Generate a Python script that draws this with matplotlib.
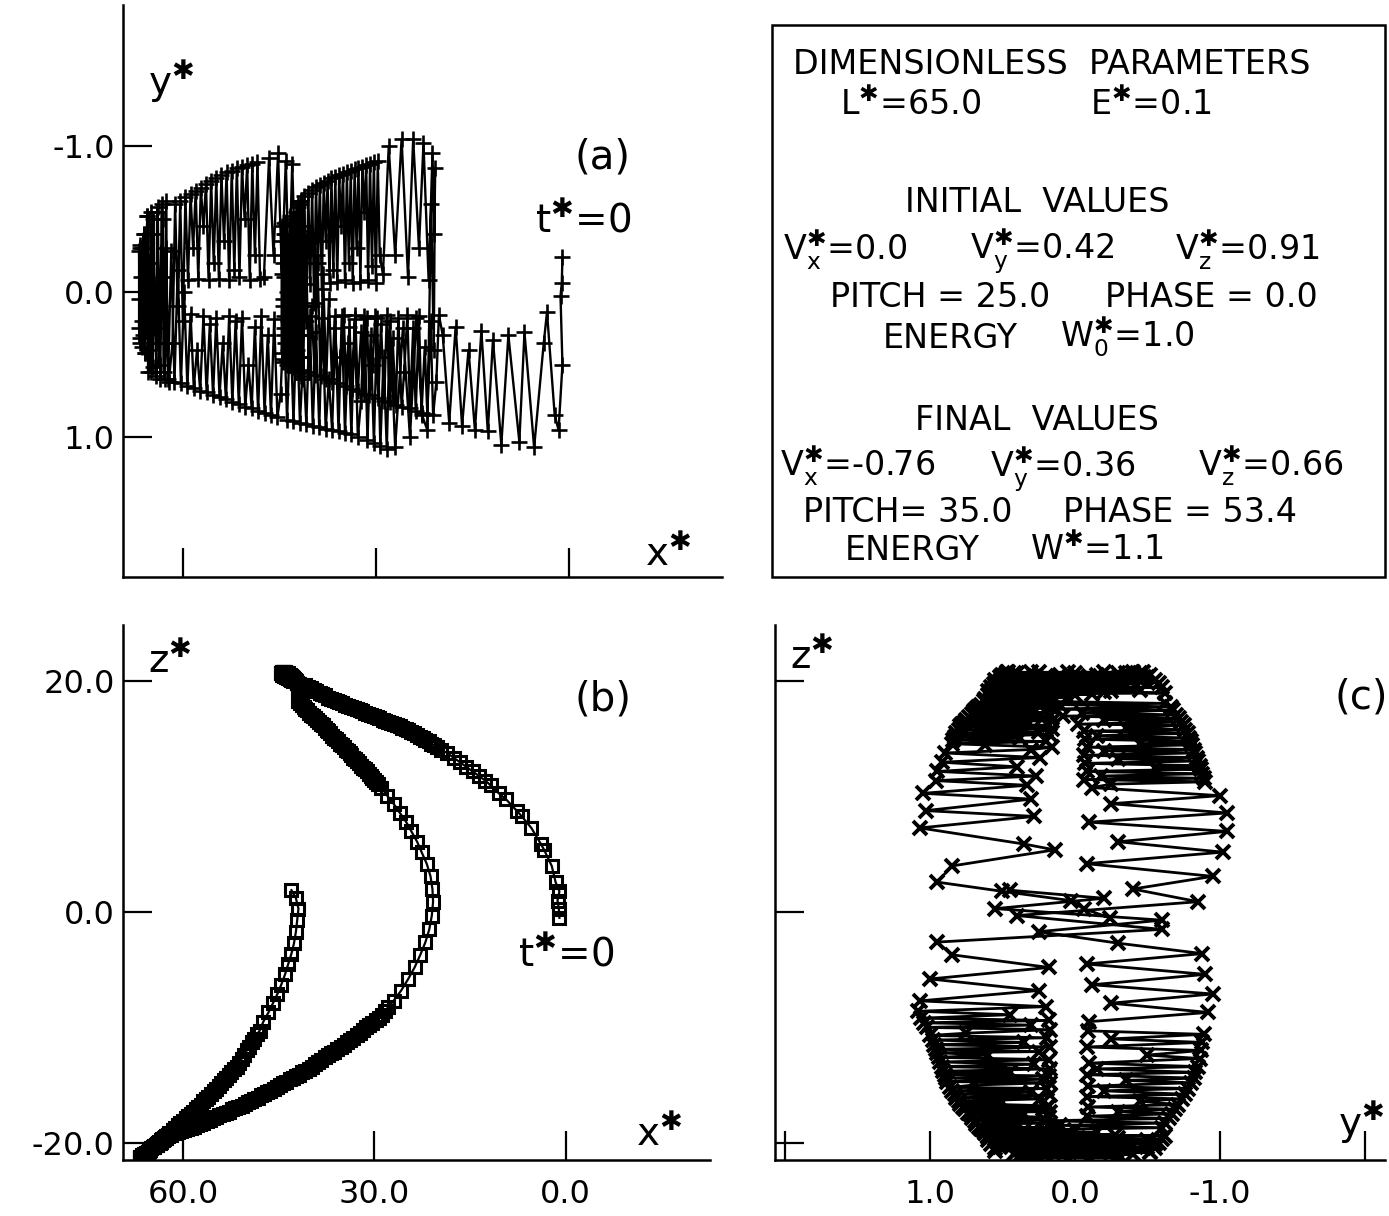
import numpy as np
import matplotlib
matplotlib.use("Agg")
import matplotlib.pyplot as plt
from matplotlib.patches import Rectangle

plt.rcParams['font.family'] = ['DejaVu Sans']
plt.rcParams['axes.unicode_minus'] = False
plt.rcParams['mathtext.default'] = 'regular'

W, H = 1389, 1216
STAR = '\u2731'

# trajectory read off the three projections, piece by piece
# A1/A2: first rise to the upper mirror point (sparse, then dense)
A1_x = [1.0, 1.1, 1.3, 1.0, 1.6, 2.2, 3.4, 3.9, 5.4, 6.9, 7.7, 9.4, 10.5, 11.8, 12.6,
        13.6, 14.6, 15.6, 16.6, 17.6, 18.6, 19.6]
A1_z = [-0.5, 0.3, 1.0, 1.8, 2.6, 4.0, 5.4, 5.9, 7.3, 8.3, 8.8, 9.8, 10.3, 11.0, 11.4,
        11.8, 12.2, 12.6, 13.0, 13.4, 13.8, 14.1]
A1_y = [-0.24, -0.06, 0.03, 0.50, 0.95, 0.85, 0.14, 0.35, 1.07, 0.28, 1.03, 0.30, 1.05,
        0.33, 0.96, 0.27, 0.95, 0.40, 0.92, 0.24, 0.90, 0.30]

A2_x = [20.2, 20.6, 21.1, 21.5, 22.0, 22.4, 22.9, 23.3, 23.8, 24.2, 24.7, 25.1, 25.6,
        26.0, 26.5, 26.9, 27.4, 27.8, 28.3, 28.7, 29.2, 29.6, 30.1, 30.5, 31.0, 31.4,
        31.9, 32.3, 32.8, 33.2, 33.7, 34.1, 34.6, 35.0, 35.5, 35.9, 36.4, 36.8, 37.3,
        37.7, 38.2, 38.6, 39.1, 39.5, 40.0, 40.4, 40.9, 41.3, 41.8, 42.2, 42.7, 43.1]
A2_z = [14.3, 14.5, 14.6, 14.8, 14.9, 15.1, 15.2, 15.4, 15.5, 15.6, 15.8, 15.9, 16.0,
        16.1, 16.2, 16.3, 16.4, 16.5, 16.6, 16.7, 16.8, 16.9, 17.0, 17.1, 17.2, 17.3,
        17.4, 17.5, 17.6, 17.7, 17.8, 17.9, 18.0, 18.1, 18.2, 18.3, 18.4, 18.5, 18.6,
        18.8, 18.9, 19.0, 19.2, 19.3, 19.4, 19.5, 19.7, 19.7, 19.8, 19.9, 20.0, 20.1]
A2_y = [0.16, 0.62, 0.85, 0.20, 0.84, 0.38, 0.83, 0.17, 0.82, 0.25, 0.80, 0.16, 0.55,
        0.79, 0.18, 0.78, 0.32, 0.76, 0.16, 0.75, 0.22, 0.73, 0.17, 0.50, 0.71, 0.18,
        0.70, 0.28, 0.68, 0.16, 0.67, 0.24, 0.65, 0.16, 0.45, 0.63, 0.17, 0.62, 0.05,
        0.60, -0.12, 0.58, -0.25, 0.57, 0.10, 0.55, -0.35, 0.54, -0.42, 0.30, 0.52, -0.45]

# M1: upper mirror point
M1_x = [43.3, 43.5, 43.6, 43.8, 43.9, 44.1, 44.2, 44.3, 44.4, 44.5, 44.6, 44.6, 44.6,
        44.5, 44.5, 44.4, 44.3, 44.3, 44.2, 44.1, 44.0, 43.9, 43.8, 43.7, 43.6, 43.5,
        43.4, 43.3, 43.2, 43.1, 43.0, 42.9, 42.8, 42.7, 42.6, 42.5, 42.4, 42.3, 42.2,
        42.1, 42.0, 41.9, 41.8, 41.7, 41.6, 41.5, 41.4, 41.4, 41.5, 41.6, 41.8, 42.0]
M1_z = [20.2, 20.3, 20.3, 20.4, 20.4, 20.5, 20.5, 20.6, 20.6, 20.6, 20.7, 20.7, 20.7,
        20.8, 20.8, 20.8, 20.8, 20.8, 20.8, 20.8, 20.8, 20.7, 20.7, 20.7, 20.7, 20.6,
        20.6, 20.6, 20.5, 20.5, 20.4, 20.4, 20.3, 20.3, 20.2, 20.1, 20.1, 20.0, 19.9,
        19.9, 19.8, 19.7, 19.6, 19.5, 19.5, 19.4, 19.3, 19.2, 19.1, 19.0, 18.9, 18.8]
M1_y = [0.45, -0.30, 0.20, 0.50, -0.48, 0.35, -0.10, -0.40, 0.48, 0.10, -0.45, 0.42,
        -0.35, 0.05, -0.20, 0.46, -0.47, 0.30, 0.25, -0.40, 0.47, -0.46, 0.00, 0.40,
        -0.30, -0.15, 0.50, -0.52, 0.20, 0.35, -0.50, 0.52, -0.40, 0.10, -0.25, 0.55,
        -0.55, 0.40, 0.05, -0.58, 0.56, -0.35, -0.10, 0.58, -0.60, 0.30, -0.45, 0.60,
        -0.20, -0.62, 0.45, 0.00]

# B1a/B1b: fall from the upper mirror point to z*=0
B1a_x = [42.0, 41.7, 41.4, 41.1, 40.8, 40.5, 40.2, 39.9, 39.6, 39.3, 39.0, 38.7, 38.4,
         38.1, 37.8, 37.5, 37.2, 36.9, 36.6, 36.3, 36.0, 35.7, 35.4, 35.1, 34.8, 34.5,
         34.2, 33.9, 33.6, 33.3, 33.0, 32.7, 32.4, 32.1, 31.8, 31.5, 31.2, 30.9, 30.6,
         30.3, 30.0, 29.7, 29.4]
B1a_z = [18.3, 18.1, 18.0, 17.8, 17.6, 17.5, 17.3, 17.1, 17.0, 16.8, 16.7, 16.5, 16.3,
         16.2, 16.0, 15.8, 15.7, 15.5, 15.3, 15.1, 15.0, 14.8, 14.6, 14.5, 14.3, 14.1,
         14.0, 13.8, 13.6, 13.4, 13.3, 13.1, 12.9, 12.7, 12.5, 12.4, 12.2, 12.0, 11.8,
         11.6, 11.5, 11.3, 11.1]
B1a_y = [0.30, -0.62, 0.10, -0.66, 0.20, -0.68, -0.05, -0.70, 0.08, -0.72, -0.20, -0.73,
         -0.02, -0.75, -0.35, -0.76, -0.06, -0.78, -0.15, -0.79, -0.07, -0.80, -0.45,
         -0.81, -0.08, -0.82, -0.20, -0.83, -0.06, -0.84, -0.30, -0.85, -0.07, -0.86,
         -0.55, -0.87, -0.08, -0.88, -0.18, -0.89, -0.06, -0.90, -0.25]

B1b_x = [28.9, 28.0, 27.0, 26.0, 25.0, 24.2, 23.3, 22.6, 21.8, 21.2, 20.9, 20.8, 21.0,
         21.4, 22.0]
B1b_z = [10.8, 10.1, 9.4, 8.6, 7.8, 7.0, 6.1, 5.2, 4.2, 3.1, 2.0, 0.9, -0.3, -1.5, -2.6]
B1b_y = [-0.12, -1.00, -0.25, -1.05, -0.10, -1.05, -0.30, -1.02, -0.08, -0.95, -0.40,
         -0.85, 0.40, -0.60, 0.95]

# B2a/B2b: fall on to the lower mirror point
B2a_x = [22.8, 23.7, 24.7, 25.8, 27.0]
B2a_z = [-3.7, -4.8, -5.8, -6.8, -7.7]
B2a_y = [0.85, 0.18, 1.00, 0.25, 1.07]

B2b_x = [27.8, 28.3, 28.8, 29.3, 29.8, 30.3, 30.8, 31.3, 31.8, 32.3, 32.8, 33.3, 33.8,
         34.3, 34.8, 35.3, 35.8, 36.3, 36.8, 37.3, 37.8, 38.3, 38.8, 39.3, 39.8, 40.3,
         40.8, 41.3, 41.8, 42.3, 42.8, 43.3, 43.8, 44.3, 44.8, 45.3, 45.8, 46.3, 46.8,
         47.3, 47.8, 48.3, 48.8, 49.3, 49.8, 50.3, 50.8, 51.3, 51.8, 52.3, 52.8, 53.3,
         53.8, 54.3, 54.8, 55.3, 55.8, 56.3, 56.8, 57.3, 57.8, 58.3, 58.8, 59.3, 59.8,
         60.3, 60.8, 61.3, 61.8, 62.3]
B2b_z = [-8.2, -8.6, -8.9, -9.2, -9.4, -9.6, -9.8, -10.0, -10.2, -10.5, -10.7, -10.9,
         -11.1, -11.3, -11.5, -11.7, -11.9, -12.1, -12.2, -12.4, -12.6, -12.8, -13.0,
         -13.2, -13.4, -13.6, -13.8, -13.9, -14.1, -14.2, -14.4, -14.5, -14.7, -14.8,
         -15.0, -15.2, -15.3, -15.5, -15.6, -15.8, -15.9, -16.1, -16.2, -16.4, -16.5,
         -16.6, -16.8, -16.9, -17.0, -17.1, -17.3, -17.4, -17.5, -17.6, -17.8, -17.9,
         -18.0, -18.1, -18.3, -18.4, -18.5, -18.6, -18.7, -18.8, -18.9, -19.0, -19.1,
         -19.2, -19.3, -19.4]
B2b_y = [0.20, 1.08, 0.45, 1.06, 0.18, 1.04, 0.30, 1.02, 0.17, 0.75, 1.00, 0.19, 0.98,
         0.35, 0.97, 0.17, 0.96, 0.25, 0.95, 0.60, 0.94, 0.18, 0.93, 0.28, 0.92, 0.17,
         0.91, 0.45, 0.90, 0.18, 0.89, 0.22, 0.88, 0.17, 0.70, 0.86, 0.19, 0.85, 0.30,
         0.83, 0.17, 0.82, 0.24, 0.80, 0.50, 0.79, 0.18, 0.77, 0.20, 0.76, 0.17, 0.74,
         0.35, 0.72, 0.18, 0.71, 0.22, 0.69, 0.17, 0.68, 0.40, 0.66, 0.15, 0.65, 0.00,
         0.63, -0.15, 0.62, -0.28, 0.60]

# M2: lower mirror point
M2_x = [62.6, 63.0, 63.1, 63.5, 63.6, 64.0, 64.1, 64.5, 64.6, 65.0, 65.1, 65.4, 65.5,
        65.8, 65.9, 66.1, 66.2, 66.4, 66.5, 66.6, 66.7, 66.8, 66.8, 66.8, 66.7, 66.6,
        66.4, 66.3, 66.1, 65.9, 65.8, 65.5, 65.4, 65.1, 65.0, 64.7, 64.6, 64.3, 64.1,
        63.9, 63.7, 63.5, 63.3, 63.0, 62.8, 62.6, 62.4, 62.2]
M2_z = [-19.6, -19.7, -19.8, -19.9, -20.0, -20.1, -20.2, -20.3, -20.4, -20.5, -20.6,
        -20.7, -20.8, -20.9, -21.0, -21.0, -21.1, -21.2, -21.2, -21.3, -21.3, -21.3,
        -21.3, -21.3, -21.2, -21.2, -21.1, -21.1, -21.0, -21.0, -20.9, -20.8, -20.7,
        -20.6, -20.5, -20.4, -20.3, -20.2, -20.1, -20.0, -19.9, -19.8, -19.7, -19.6,
        -19.5, -19.4, -19.3, -19.2]
M2_y = [-0.30, 0.55, -0.50, 0.10, 0.50, -0.55, 0.35, -0.05, -0.50, 0.55, -0.20, 0.40,
        -0.52, 0.15, 0.42, -0.40, 0.30, -0.30, -0.10, 0.32, -0.30, 0.25, 0.05, -0.28,
        0.35, -0.32, 0.20, 0.38, -0.40, 0.42, -0.25, -0.52, 0.55, 0.00, -0.55, 0.52,
        -0.40, 0.25, 0.58, -0.58, 0.15, 0.60, -0.60, -0.10, 0.60, -0.62, 0.35, 0.62]

# C1/C2: last rise, ends near z*=2
C1_x = [61.6, 61.2, 60.8, 60.4, 60.0, 59.6, 59.2, 58.8, 58.4, 58.0, 57.6, 57.2, 56.8,
        56.4, 56.0, 55.6, 55.2, 54.8, 54.4, 54.0, 53.6, 53.2, 52.8, 52.4, 52.0, 51.6,
        51.2, 50.8, 50.4, 50.0, 49.6, 49.2, 48.8, 48.4, 48.0]
C1_z = [-18.9, -18.7, -18.5, -18.3, -18.1, -17.9, -17.7, -17.5, -17.3, -17.1, -16.9,
        -16.7, -16.4, -16.2, -16.0, -15.8, -15.5, -15.3, -15.1, -14.8, -14.6, -14.4,
        -14.1, -13.9, -13.6, -13.4, -13.1, -12.7, -12.4, -12.0, -11.7, -11.3, -11.0,
        -10.6, -10.3]
C1_y = [0.35, -0.60, 0.10, -0.62, 0.20, -0.65, -0.08, -0.67, -0.30, -0.69, -0.09, -0.71,
        -0.45, -0.74, -0.08, -0.76, -0.20, -0.78, -0.09, -0.80, -0.35, -0.82, -0.08,
        -0.83, -0.15, -0.85, -0.10, -0.86, -0.50, -0.87, -0.08, -0.88, -0.25, -0.89,
        -0.09]

C2_x = [47.4, 46.6, 45.9, 45.2, 44.6, 44.0, 43.5, 43.0, 42.6, 42.3, 42.1, 41.9, 42.3, 43.0]
C2_z = [-9.5, -8.7, -7.9, -7.1, -6.3, -5.4, -4.5, -3.6, -2.7, -1.7, -0.7, 0.3, 1.2, 1.9]
C2_y = [-0.10, -0.92, -0.25, -0.95, -0.12, -0.90, -0.08, -0.88, -0.30, 0.25, -0.60,
        0.55, -0.20, 0.45]

# ticks
x_ticks = [60.0, 30.0, 0.0]
x_ticklabels = ['60.0', '30.0', '0.0']
y_ticks_a = [-1.0, 0.0, 1.0]
y_ticklabels_a = ['-1.0', '0.0', '1.0']
z_ticks = [20.0, 0.0, -20.0]
z_ticklabels = ['20.0', '0.0', '-20.0']
y_ticks_c = [2.0, 1.0, 0.0, -1.0, -2.0]
y_ticklabels_c = ['', '1.0', '0.0', '-1.0', '']

# text of the parameter box: (left px, baseline px, text)
box_lines = [
    (793, 74, 'DIMENSIONLESS  PARAMETERS'),
    (840, 115, 'L$^{' + STAR + '}$=65.0'),
    (1090, 115, 'E$^{' + STAR + '}$=0.1'),
    (905, 212, 'INITIAL  VALUES'),
    (783, 260, 'V$_x^{' + STAR + '}$=0.0'),
    (970, 260, 'V$_y^{' + STAR + '}$=0.42'),
    (1175, 260, 'V$_z^{' + STAR + '}$=0.91'),
    (830, 307, 'PITCH = 25.0'),
    (1105, 307, 'PHASE = 0.0'),
    (883, 348, 'ENERGY'),
    (1060, 348, 'W$_0^{' + STAR + '}$=1.0'),
    (915, 430, 'FINAL  VALUES'),
    (780, 477, 'V$_x^{' + STAR + '}$=-0.76'),
    (990, 477, 'V$_y^{' + STAR + '}$=0.36'),
    (1198, 477, 'V$_z^{' + STAR + '}$=0.66'),
    (803, 522, 'PITCH= 35.0'),
    (1063, 522, 'PHASE = 53.4'),
    (845, 560, 'ENERGY'),
    (1030, 560, 'W$^{' + STAR + '}$=1.1'),
]

pieces_x = [A1_x, A2_x, M1_x, B1a_x, B1b_x, B2a_x, B2b_x, M2_x, C1_x, C2_x]
pieces_y = [A1_y, A2_y, M1_y, B1a_y, B1b_y, B2a_y, B2b_y, M2_y, C1_y, C2_y]
pieces_z = [A1_z, A2_z, M1_z, B1a_z, B1b_z, B2a_z, B2b_z, M2_z, C1_z, C2_z]
x_star = np.concatenate(pieces_x)
y_star = np.concatenate(pieces_y)
z_star = np.concatenate(pieces_z)


def fx(px):
    return px / W


def fy(py):
    return 1 - py / H


def frame(ax):
    for s in ['top', 'right']:
        ax.spines[s].set_visible(False)
    for s in ['left', 'bottom']:
        ax.spines[s].set_linewidth(1.8)
    ax.tick_params(direction='in', length=21, width=1.6, labelsize=23, pad=6)
    ax.tick_params(axis='x', pad=14)
    ax.patch.set_alpha(0)


fig = plt.figure(figsize=(W / 100, H / 100), dpi=100)

# (a) x*-y*
ax1 = fig.add_axes([fx(123), fy(577), fx(722 - 123), (577 - 5) / H])
ax1.plot(x_star, y_star, '-', color='k', lw=1.7, marker='+', ms=11, mew=1.9)
ax1.set_xlim(69.3, -23.8)
ax1.set_ylim(1.96, -1.97)
ax1.set_xticks(x_ticks)
ax1.set_xticklabels([])
ax1.set_yticks(y_ticks_a)
ax1.set_yticklabels(y_ticklabels_a)
frame(ax1)

# (b) x*-z*
ax2 = fig.add_axes([fx(123), fy(1160), fx(710 - 123), (1160 - 625) / H])
ax2.plot(x_star, z_star, '-', color='k', lw=1.6, marker='s', ms=8.5, mew=2.2,
         mfc='none')
ax2.set_xlim(69.4, -22.6)
ax2.set_ylim(-21.5, 24.9)
ax2.set_xticks(x_ticks)
ax2.set_xticklabels(x_ticklabels)
ax2.set_yticks(z_ticks)
ax2.set_yticklabels(z_ticklabels)
frame(ax2)

# (c) y*-z*
ax3 = fig.add_axes([fx(775), fy(1160), fx(1385 - 775), (1160 - 625) / H])
ax3.plot(y_star, z_star, '-', color='k', lw=2.0, marker='x', ms=10, mew=2.8)
ax3.set_xlim(2.07, -2.14)
ax3.set_ylim(-21.5, 24.9)
ax3.set_xticks(y_ticks_c)
ax3.set_xticklabels(y_ticklabels_c)
ax3.set_yticks(z_ticks)
ax3.set_yticklabels([])
frame(ax3)

# parameter box
fig.patches.append(Rectangle((fx(772), fy(577)), fx(1385 - 772), (577 - 25) / H,
                             transform=fig.transFigure, fill=False, lw=1.8,
                             edgecolor='k'))
for px, py, s in box_lines:
    fig.text(fx(px), fy(py), s, fontsize=24, ha='left', va='baseline')

# axis names, panel letters, start markers
labels = [
    (148, 94, 'y$^{' + STAR + '}$', 28),
    (645, 565, 'x$^{' + STAR + '}$', 28),
    (575, 168, '(a)', 29),
    (535, 232, 't$^{' + STAR + '}$=0', 28),
    (148, 672, 'z$^{' + STAR + '}$', 28),
    (636, 1145, 'x$^{' + STAR + '}$', 28),
    (575, 710, '(b)', 29),
    (518, 965, 't$^{' + STAR + '}$=0', 28),
    (790, 668, 'z$^{' + STAR + '}$', 28),
    (1338, 1135, 'y$^{' + STAR + '}$', 28),
    (1335, 708, '(c)', 29),
]
for px, py, s, fs in labels:
    fig.text(fx(px), fy(py), s, fontsize=fs, ha='left', va='baseline')

fig.savefig('out.png', dpi=100, facecolor='white')
